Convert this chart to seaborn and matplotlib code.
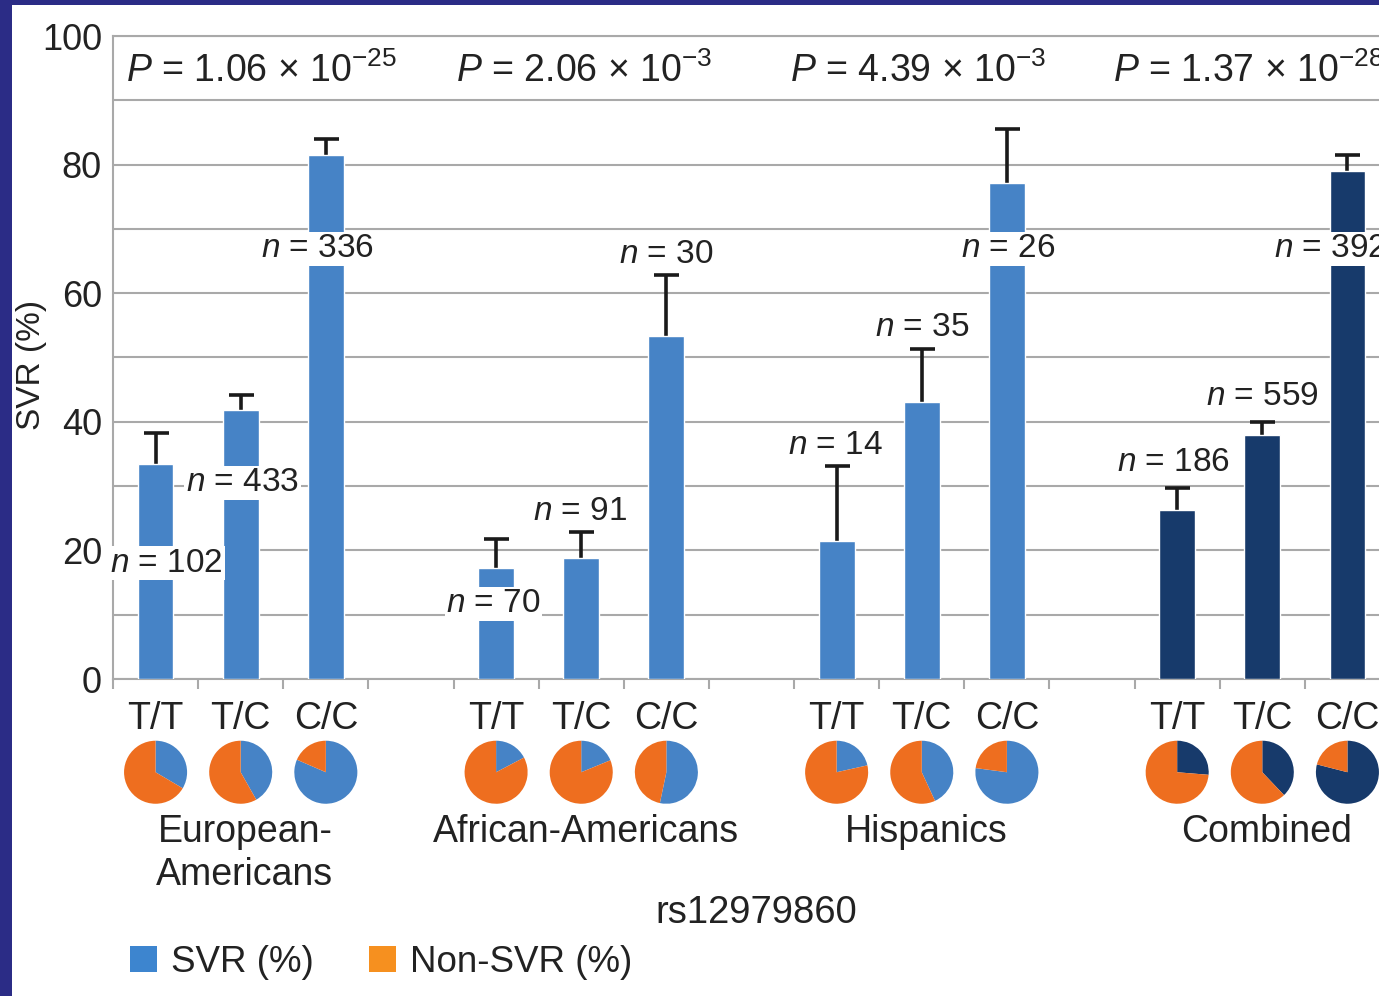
import numpy as np
import pandas as pd
import seaborn as sns
import matplotlib.pyplot as plt
from matplotlib.patches import Rectangle, Patch

# values
groups = ["European-\nAmericans", "African-Americans", "Hispanics", "Combined"]
genotypes = ["T/T", "T/C", "C/C"]
svr_pct = [33.5, 41.8, 81.5, 17.3, 18.8, 53.3, 21.5, 43.1, 77.1, 26.3, 37.9, 79.0]
svr_err = [4.8, 2.4, 2.5, 4.5, 4.1, 9.5, 11.6, 8.2, 8.4, 3.4, 2.1, 2.5]
n_counts = [102, 433, 336, 70, 91, 30, 14, 35, 26, 186, 559, 392]
p_mant = ["1.06", "2.06", "4.39", "1.37"]
p_exp = [-25, -3, -3, -28]

# label placement (slot offsets / y in data units)
n_label_dx = [0.13, 0.02, -0.1, -0.03, -0.01, 0.0, -0.01, 0.0, 0.01, -0.04, 0.0, -0.2]
n_label_y = [18.0, 30.5, 66.9, 11.7, 26.1, 66.0, 36.3, 54.7, 66.9, 33.6, 44.0, 66.9]
p_label_x = [-0.35, 3.53, 7.45, 11.25]

BLUE = "#4683c6"
NAVY = "#173a6b"
ORANGE = "#ee6e1f"
FRAME = "#2b2c86"
GRID = "#a9a9a9"
TEXT = "#222222"

df = pd.DataFrame({
    "group": np.repeat(range(len(groups)), 3),
    "genotype": genotypes * len(groups),
    "svr": svr_pct,
    "err": svr_err,
    "n": n_counts,
})
df["slot"] = df["group"] * 4 + np.tile(range(3), len(groups))
df["shade"] = np.where(df["group"] == 3, "comb", "ethnic")

sns.set_theme(style="white")
plt.rcParams["font.family"] = ["Liberation Sans", "DejaVu Sans"]
plt.rcParams["mathtext.fontset"] = "custom"
plt.rcParams["mathtext.rm"] = "Liberation Sans"
plt.rcParams["mathtext.it"] = "Liberation Sans:italic"
plt.rcParams["text.color"] = TEXT

fig = plt.figure(figsize=(13.79, 9.96), dpi=100)
fig.patch.set_facecolor(FRAME)
fig.add_artist(Rectangle((12 / 1379, 0), 1, 1 - 5 / 996, transform=fig.transFigure,
                         facecolor="white", edgecolor="none", zorder=-5))

ax = fig.add_axes([113 / 1379, 1 - 679 / 996, 1277 / 1379, 643 / 996])
ax.set_facecolor("white")

sns.barplot(data=df, x="slot", y="svr", hue="shade", native_scale=True, width=0.42,
            palette={"ethnic": BLUE, "comb": NAVY}, saturation=1, errorbar=None,
            legend=False, ax=ax, zorder=3)
# upper-only error bars
eb = ax.errorbar(df["slot"], df["svr"], yerr=[np.zeros(len(df)), df["err"]], fmt="none",
                 ecolor="#1a1a1a", elinewidth=2.6, capsize=9, capthick=2.6, zorder=2.5)
eb[1][0].set_visible(False)

ax.set_xlim(-0.5, 14.5)
ax.set_ylim(0, 100)
ax.set_yticks(range(0, 101, 20))
ax.set_yticks(range(10, 100, 20), minor=True)
ax.yaxis.grid(True, which="both", color=GRID, lw=1.5, zorder=0)
ax.set_axisbelow(True)
ax.tick_params(axis="y", which="both", length=0, pad=8, labelsize=26, labelcolor=TEXT)

ax.set_xticks(np.arange(-0.5, 14.6, 1))
ax.set_xticklabels([])
ax.set_xticks(df["slot"], df["genotype"], minor=True)
ax.tick_params(axis="x", which="major", direction="out", length=7, width=1.5, color=GRID, bottom=True)
ax.tick_params(axis="x", which="minor", length=0, pad=16, labelsize=27, labelcolor=TEXT)
ax.set_xlabel("")

for side in ["left", "bottom", "top"]:
    ax.spines[side].set_color(GRID)
    ax.spines[side].set_linewidth(1.5)
ax.spines["right"].set_visible(False)

ax.set_ylabel("SVR (%)", fontsize=24, color=TEXT)
ax.yaxis.set_label_coords(-0.052, 0.488)

# n labels with white boxes
for i, row in df.iterrows():
    ax.text(row["slot"] + n_label_dx[i], n_label_y[i], f"$n$ = {row['n']}", ha="center", va="center",
            fontsize=24, zorder=5, bbox=dict(facecolor="white", edgecolor="none", pad=1.2))

# P-values
for x, m, e in zip(p_label_x, p_mant, p_exp):
    ax.text(x, 94.5, f"$P$ = {m} \u00d7 10$^{{{e}}}$", ha="left", va="center", fontsize=27)

# pies under each bar
for i, row in df.iterrows():
    pax = ax.inset_axes([row["slot"] - 0.45, -19.5, 0.9, 10], transform=ax.transData)
    c = NAVY if row["shade"] == "comb" else BLUE
    pax.pie([row["svr"], 100 - row["svr"]], colors=[c, ORANGE], startangle=90,
            counterclock=False, wedgeprops=dict(linewidth=0))
    pax.set_xlim(-1.02, 1.02)
    pax.set_ylim(-1.02, 1.02)
    pax.set_axis_off()

# group names
for g, name in enumerate(groups):
    ax.text(g * 4 + 1.05, -21.0, name, ha="center", va="top", fontsize=27,
            linespacing=1.25, clip_on=False)
ax.text(7.06, -36.4, "rs12979860", ha="center", va="center", fontsize=27.5, clip_on=False)

handles = [Patch(facecolor="#3d85cf", edgecolor="none"), Patch(facecolor="#f6901f", edgecolor="none")]
fig.legend(handles, ["SVR (%)", "Non-SVR (%)"], loc="center left", bbox_to_anchor=(130 / 1379, 1 - 962 / 996),
           ncol=2, frameon=False, fontsize=26.5, handlelength=0.72, handleheight=0.72,
           handletextpad=0.4, columnspacing=1.5, borderpad=0, borderaxespad=0)

fig.savefig("out.png", dpi=100)
